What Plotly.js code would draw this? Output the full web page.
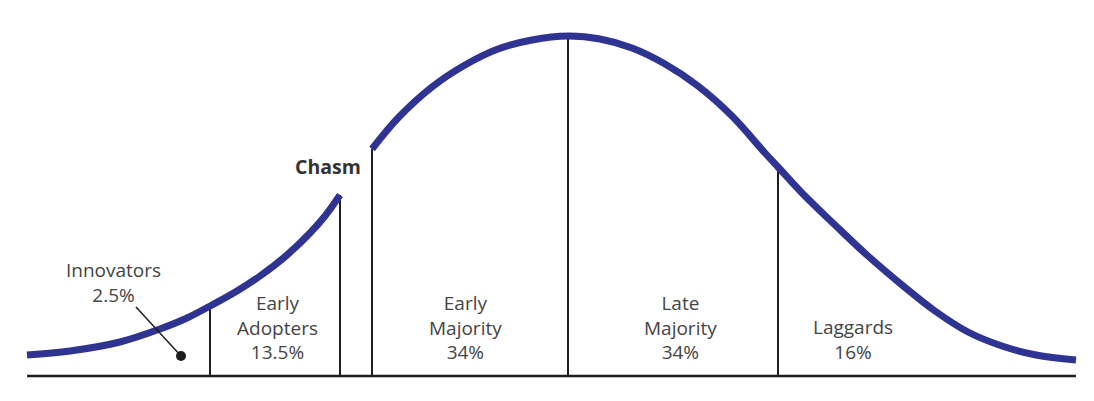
<!DOCTYPE html>
<html>
<head>
<meta charset="utf-8">
<script src="https://cdn.plot.ly/plotly-3.0.1.min.js"></script>
<style>
  html, body { margin: 0; padding: 0; background: #ffffff; }
  #chart { width: 1094px; height: 401px; }
</style>
</head>
<body>
<div id="chart"></div>
<script>
// Adoption curve (x = position along the lifecycle, y = height above baseline)
const earlyX = [27, 70, 120, 160, 187, 212, 237, 260, 287, 310, 325, 340];
const earlyY = [21, 25, 34, 47, 58, 71, 85, 100, 121, 143, 160, 181];
const mainX = [372, 398, 432, 465, 498, 532, 568, 600, 632, 665, 698, 732, 765, 778, 803, 835, 868, 902, 935, 968, 1002, 1036, 1076];
const mainY = [227, 258, 289, 311, 327, 336, 340, 337, 328, 312, 290, 260, 223, 209, 182, 151, 120, 91, 65, 44, 30, 21, 16];

// Segment boundaries and the curve height where each divider meets it
const boundaryX = [210, 340, 372, 568, 778];
const boundaryY = [70, 181, 227, 340, 209];
const axisStart = 27, axisEnd = 1076;

// Segment labels
const segmentNames = ["Innovators", "Early<br>Adopters", "Early<br>Majority", "Late<br>Majority", "Laggards"];
const segmentShares = ["2.5%", "13.5%", "34%", "34%", "16%"];
const chasmLabel = "Chasm";

// Divider traces built from boundary arrays
const divX = [], divY = [];
boundaryX.forEach((bx, i) => { divX.push(bx, bx, null); divY.push(0, boundaryY[i], null); });

const curveColor = "#2f3391";
const ink = "#1e1e1e";
const textColor = "#444444";
const font = "'Open Sans', 'Noto Sans', sans-serif";

const traces = [
  { x: divX, y: divY, mode: "lines", line: { color: ink, width: 2 }, hoverinfo: "skip" },
  { x: [axisStart, axisEnd], y: [0, 0], mode: "lines", line: { color: ink, width: 2.5 }, hoverinfo: "skip" },
  { x: earlyX, y: earlyY, mode: "lines", line: { color: curveColor, width: 7, shape: "spline", smoothing: 1 }, hoverinfo: "skip" },
  { x: mainX, y: mainY, mode: "lines", line: { color: curveColor, width: 7, shape: "spline", smoothing: 1 }, hoverinfo: "skip" },
  // pointer from Innovators label into its area
  { x: [136, 181], y: [69, 20], mode: "lines", line: { color: ink, width: 1.5 }, hoverinfo: "skip" },
  { x: [181], y: [20], mode: "markers", marker: { color: ink, size: 10 }, hoverinfo: "skip" }
];

const labelPos = [
  { x: 113, y: 94 },
  { x: 277, y: 49 },
  { x: 465, y: 49 },
  { x: 680, y: 49 },
  { x: 853, y: 37 }
];

const annotations = segmentNames.map((name, i) => ({
  x: labelPos[i].x, y: labelPos[i].y, xref: "x", yref: "y",
  text: name + "<br>" + segmentShares[i],
  showarrow: false, xanchor: "center", yanchor: "middle", align: "center",
  font: { family: font, size: 19, color: textColor }
}));
annotations.push({
  x: 328, y: 210, xref: "x", yref: "y", text: "<b>" + chasmLabel + "</b>",
  showarrow: false, xanchor: "center", yanchor: "middle",
  font: { family: font, size: 19.5, color: "#333333" }
});

const layout = {
  width: 1094, height: 401,
  margin: { l: 0, r: 0, t: 0, b: 0 },
  paper_bgcolor: "#ffffff", plot_bgcolor: "#ffffff",
  showlegend: false,
  xaxis: { range: [0, 1094], visible: false, fixedrange: true },
  yaxis: { range: [-25, 376], visible: false, fixedrange: true },
  annotations: annotations
};

Plotly.newPlot("chart", traces, layout, { displayModeBar: false, staticPlot: true });
</script>
</body>
</html>
